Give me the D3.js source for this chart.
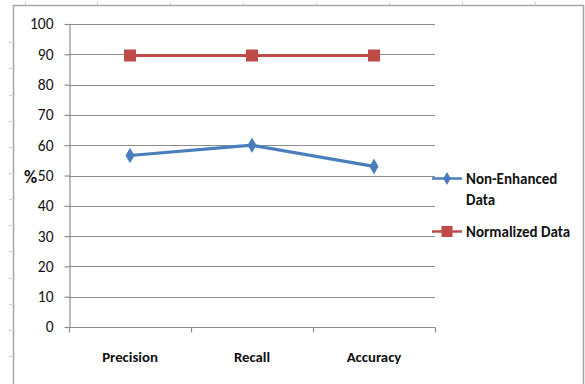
<!DOCTYPE html>
<html>
<head>
<meta charset="utf-8">
<script src="https://cdn.jsdelivr.net/npm/d3@7"></script>
<style>
  html, body { margin: 0; padding: 0; background: #fff; }
  svg { display: block; }
  text { font-family: Carlito, "Liberation Sans Narrow", "Open Sans", Arial, sans-serif; }
</style>
</head>
<body>
<svg id="chart" width="585" height="384"></svg>
<script>
// Categories and series values
const categories = ["Precision", "Recall", "Accuracy"];
const nonEnhanced = [56.6, 60, 53];
const normalized = [89.6, 89.6, 89.6];
const yTicks = [0, 10, 20, 30, 40, 50, 60, 70, 80, 90, 100];
const seriesNames = ["Non-Enhanced Data", "Normalized Data"];

const svg = d3.select("#chart");
const ink = "#111";

// Chart frame
svg.append("path")
  .attr("d", "M13.5,384 V5.5 H583.5 V384")
  .attr("fill", "none")
  .attr("stroke", "#a6a6a6")
  .attr("stroke-width", 1.5);

// Faint ruler ticks along the frame
const rulerTop = [25, 97, 170, 243, 316, 389, 462, 535];
svg.selectAll(".rt").data(rulerTop).enter().append("line")
  .attr("x1", d => d + 0.5).attr("x2", d => d + 0.5)
  .attr("y1", 2).attr("y2", 5)
  .attr("stroke", "#c8cfe6").attr("stroke-width", 1);
const rulerLeft = [42, 68, 95, 121, 147, 173, 199, 225, 251, 278, 304, 330, 356];
svg.selectAll(".rl").data(rulerLeft).enter().append("line")
  .attr("x1", 9).attr("x2", 12)
  .attr("y1", d => d + 0.5).attr("y2", d => d + 0.5)
  .attr("stroke", "#c8cfe6").attr("stroke-width", 1);

const x = d3.scaleBand().domain(categories).range([69, 435]);
const y = d3.scaleLinear().domain([0, 100]).range([327, 24]);

// Horizontal gridlines
svg.append("g").selectAll("line").data(yTicks.filter(d => d > 0)).enter().append("line")
  .attr("x1", 69).attr("x2", 435)
  .attr("y1", d => Math.round(y(d)) + 0.5).attr("y2", d => Math.round(y(d)) + 0.5)
  .attr("stroke", "#8c8c8c").attr("stroke-width", 1.2);

// Y axis
const yAxis = svg.append("g")
  .attr("transform", "translate(69.5,0)")
  .call(d3.axisLeft(y).tickValues(yTicks).tickSize(5).tickSizeOuter(0).tickPadding(11));
yAxis.select(".domain").attr("stroke", "#8c8c8c").attr("stroke-width", 1.2);
yAxis.selectAll(".tick line").attr("stroke", "#8c8c8c").attr("stroke-width", 1.2);
yAxis.selectAll(".tick text")
  .attr("font-size", 15.5).attr("fill", ink)
  .style("font-family", "Carlito, 'Liberation Sans Narrow', Arial, sans-serif");

// X axis with ticks at category boundaries
const xAxisG = svg.append("g").attr("transform", "translate(0," + (Math.round(y(0)) + 0.5) + ")");
xAxisG.append("line")
  .attr("x1", 69).attr("x2", 435)
  .attr("stroke", "#8c8c8c").attr("stroke-width", 1.2);
const bounds = categories.map(c => x(c)).concat([x.range()[1]]);
xAxisG.selectAll(".xt").data(bounds).enter().append("line")
  .attr("x1", d => Math.round(d) + 0.5).attr("x2", d => Math.round(d) + 0.5)
  .attr("y1", 0).attr("y2", 5)
  .attr("stroke", "#8c8c8c").attr("stroke-width", 1.2);
xAxisG.selectAll(".xl").data(categories).enter().append("text")
  .attr("x", d => x(d) + x.bandwidth() / 2)
  .attr("y", 34)
  .attr("text-anchor", "middle")
  .attr("font-size", 14.8).attr("font-weight", "bold").attr("fill", ink)
  .text(d => d);

// Y axis title
svg.append("text")
  .attr("x", 24).attr("y", 183)
  .attr("font-size", 18).attr("font-weight", "bold").attr("fill", ink)
  .text("%");

const cx = c => x(c) + x.bandwidth() / 2;
const line = d3.line().x((d, i) => cx(categories[i])).y(d => y(d));

const blue = "#4a7ebb", red = "#be4b48";

// Normalized Data series
svg.append("path").datum(normalized)
  .attr("d", line).attr("fill", "none")
  .attr("stroke", red).attr("stroke-width", 3.2);
svg.selectAll(".sq").data(normalized).enter().append("rect")
  .attr("x", (d, i) => cx(categories[i]) - 6)
  .attr("y", d => y(d) - 6)
  .attr("width", 12).attr("height", 12)
  .attr("fill", red);

// Non-Enhanced Data series
svg.append("path").datum(nonEnhanced)
  .attr("d", line).attr("fill", "none")
  .attr("stroke", blue).attr("stroke-width", 3.2).attr("stroke-linejoin", "round");
const diamond = d3.symbol().type(d3.symbolDiamond).size(70);
svg.selectAll(".dm").data(nonEnhanced).enter().append("path")
  .attr("d", diamond)
  .attr("transform", (d, i) => "translate(" + cx(categories[i]) + "," + y(d) + ")")
  .attr("fill", blue);

// Legend
const legend = svg.append("g");
const l1y = 178.5, l2y = 231.5;
const lfs = 15;
legend.append("line").attr("x1", 432).attr("x2", 462).attr("y1", l1y).attr("y2", l1y)
  .attr("stroke", blue).attr("stroke-width", 2.5);
legend.append("path").attr("d", d3.symbol().type(d3.symbolDiamond).size(50))
  .attr("transform", "translate(447," + l1y + ")").attr("fill", blue);
legend.append("text").attr("x", 466).attr("y", l1y + 5)
  .attr("font-size", lfs).attr("font-weight", "bold").attr("fill", ink)
  .text("Non-Enhanced");
legend.append("text").attr("x", 466).attr("y", l1y + 26)
  .attr("font-size", lfs).attr("font-weight", "bold").attr("fill", ink)
  .text("Data");
legend.append("line").attr("x1", 432).attr("x2", 462).attr("y1", l2y).attr("y2", l2y)
  .attr("stroke", red).attr("stroke-width", 2.5);
legend.append("rect").attr("x", 441.5).attr("y", l2y - 5.5).attr("width", 11).attr("height", 11)
  .attr("fill", red);
legend.append("text").attr("x", 466).attr("y", l2y + 5)
  .attr("font-size", lfs).attr("font-weight", "bold").attr("fill", ink)
  .text(seriesNames[1]);
</script>
</body>
</html>
